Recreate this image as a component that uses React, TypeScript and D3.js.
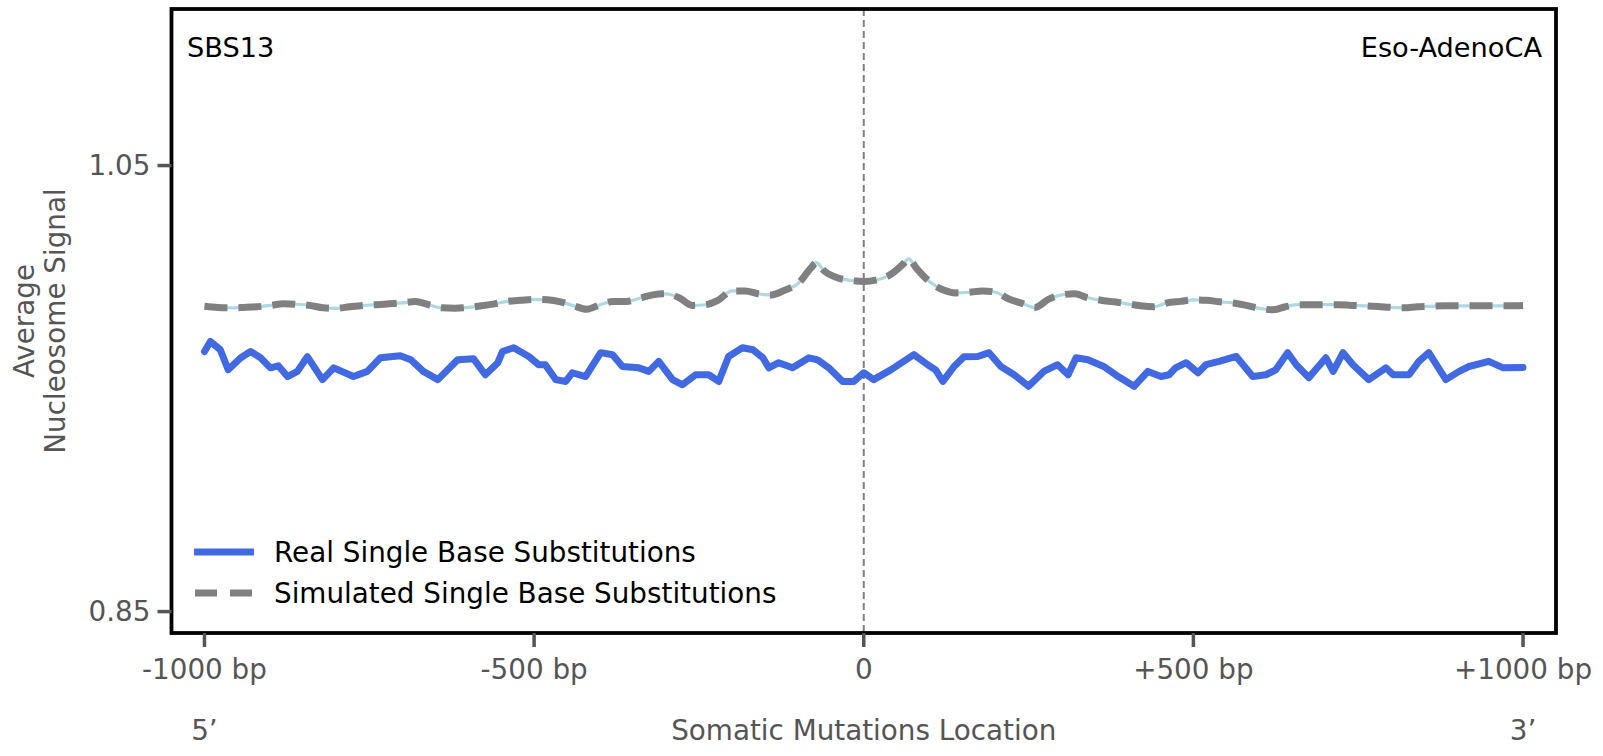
import React from 'react';
import * as d3 from 'd3';

// real SBS profile (bp from mutation, avg signal)
const realBp = [
  -1000, -991, -976, -964, -945, -930, -915, -900, -888, -874, -859, -844, -821, -804, -774, -753,
  -733, -703, -687, -668, -646, -616, -592, -574, -555, -548, -531, -508, -493, -483, -467, -452,
  -442, -422, -399, -381, -366, -341, -326, -311, -290, -275, -255, -235, -220, -205, -184, -168,
  -153, -144, -129, -108, -83, -70, -53, -32, -15, 0, 15, 41, 76, 97, 109, 120, 137, 152, 173, 190,
  208, 228, 250, 273, 294, 310, 322, 340, 364, 386, 410, 431, 451, 463, 473, 489, 507, 519, 539,
  565, 590, 610, 625, 643, 656, 675, 701, 712, 727, 742, 766, 792, 803, 827, 842, 857, 883, 903,
  918, 948, 970, 1000,
];
const realSignal = [
  0.9666, 0.9711, 0.9674, 0.9584, 0.9638, 0.9666, 0.9638, 0.9593, 0.9602, 0.9554, 0.9577, 0.9643,
  0.954, 0.9593, 0.9554, 0.9577, 0.9638, 0.9647, 0.9629, 0.9577, 0.954, 0.9629, 0.9634, 0.9562,
  0.9616, 0.9666, 0.9683, 0.9644, 0.9607, 0.9607, 0.954, 0.9532, 0.9571, 0.9554, 0.9661, 0.9652,
  0.9599, 0.9593, 0.9577, 0.9622, 0.954, 0.9517, 0.9562, 0.9562, 0.9532, 0.9644, 0.9683, 0.9674,
  0.9638, 0.9593, 0.9616, 0.9593, 0.9638, 0.9629, 0.9593, 0.9532, 0.9532, 0.9571, 0.954, 0.9584,
  0.9652, 0.9607, 0.9584, 0.9532, 0.9599, 0.9643, 0.9644, 0.9661, 0.9599, 0.9562, 0.951, 0.9577,
  0.9607, 0.9562, 0.9638, 0.9629, 0.9599, 0.9554, 0.951, 0.9577, 0.9554, 0.9562, 0.9593, 0.9616,
  0.9571, 0.9607, 0.9622, 0.9644, 0.9554, 0.9562, 0.9584, 0.9661, 0.9607, 0.9549, 0.9638, 0.9577,
  0.9661, 0.9607, 0.954, 0.9593, 0.9562, 0.9562, 0.9622, 0.9661, 0.954, 0.9577, 0.9599, 0.9622,
  0.9593, 0.9595,
];

// simulated profile
const simBp = [
  -1000, -980, -960, -940, -920, -900, -880, -860, -840, -820, -800, -780, -760, -740, -720, -700,
  -680, -660, -640, -620, -600, -580, -560, -540, -520, -500, -480, -460, -440, -420, -400, -380,
  -360, -340, -320, -300, -280, -260, -240, -220, -200, -180, -160, -140, -120, -100, -80, -72,
  -60, -40, -20, 0, 20, 40, 60, 68, 80, 100, 120, 140, 160, 180, 200, 220, 240, 260, 280, 300, 320,
  340, 360, 380, 400, 420, 440, 460, 480, 500, 520, 540, 560, 580, 600, 620, 640, 660, 680, 700,
  720, 740, 760, 780, 800, 820, 840, 860, 880, 900, 920, 940, 960, 980, 1000,
];
const simSignal = [
  0.9869, 0.9864, 0.9862, 0.9864, 0.9867, 0.9873, 0.988, 0.9878, 0.9873, 0.9862, 0.986, 0.9867,
  0.9873, 0.9876, 0.988, 0.9884, 0.989, 0.9876, 0.9862, 0.986, 0.9864, 0.9871, 0.988, 0.9891,
  0.9896, 0.99, 0.9898, 0.9889, 0.9871, 0.9856, 0.9876, 0.9891, 0.9891, 0.9905, 0.992, 0.9925,
  0.9907, 0.9873, 0.9876, 0.9898, 0.9938, 0.9938, 0.9925, 0.992, 0.9941, 0.997, 1.0041, 1.0065,
  1.0028, 0.9997, 0.9985, 0.998, 0.9988, 1.001, 1.0059, 1.0082, 1.0039, 0.9979, 0.9943, 0.9929,
  0.9932, 0.9938, 0.9932, 0.9902, 0.9882, 0.9864, 0.99, 0.992, 0.9925, 0.9907, 0.9896, 0.9889,
  0.988, 0.9871, 0.9867, 0.9884, 0.9891, 0.9898, 0.9896, 0.9889, 0.9884, 0.9873, 0.986, 0.9853,
  0.9867, 0.9876, 0.9876, 0.9876, 0.9876, 0.9873, 0.9871, 0.9868, 0.9864, 0.9862, 0.9867, 0.9869,
  0.9871, 0.9871, 0.9871, 0.9871, 0.9871, 0.9871, 0.9873,
];

const xTicks = [-1000, -500, 0, 500, 1000];
const xTickLabels = ['-1000 bp', '-500 bp', '0', '+500 bp', '+1000 bp'];
const yTicks = [1.05, 0.85];
const legendLabels = ['Real Single Base Substitutions', 'Simulated Single Base Substitutions'];

const W = 1603;
const H = 756;
const box = { left: 171.5, right: 1556, top: 9, bottom: 633 };
const FONT = '"DejaVu Sans", sans-serif';
const GREY_TXT = '#555555';
const FS = 27.8; // 20pt @ 100dpi

export default function App() {
  const x = d3.scaleLinear().domain([-1050, 1050]).range([box.left, box.right]);
  const y = d3.scaleLinear().domain([0.8404, 1.1202]).range([box.bottom, box.top]);

  const realLine = d3
    .line<number>()
    .x((_, i) => x(realBp[i]))
    .y((d) => y(d))
    .curve(d3.curveLinear);
  const simLine = d3
    .line<number>()
    .x((_, i) => x(simBp[i]))
    .y((d) => y(d))
    .curve(d3.curveMonotoneX);

  const midY = (box.top + box.bottom) / 2;

  return (
    <svg
      width={W}
      height={H}
      style={{ position: 'absolute', left: 0, top: 0, background: '#fff' }}
      fontFamily={FONT}
    >
      <defs>
        <clipPath id="plot-clip">
          <rect x={box.left} y={box.top} width={box.right - box.left} height={box.bottom - box.top} />
        </clipPath>
      </defs>

      <g clipPath="url(#plot-clip)">
        {/* centre line */}
        <line
          x1={x(0)}
          x2={x(0)}
          y1={box.top}
          y2={box.bottom}
          stroke="#808080"
          strokeWidth={2}
          strokeDasharray="7,4"
        />
        <path d={simLine(simSignal) || ''} fill="none" stroke="#ADD8E6" strokeWidth={3.2} />
        <path
          d={simLine(simSignal) || ''}
          fill="none"
          stroke="#808080"
          strokeWidth={7}
          strokeDasharray="23,11"
        />
        <path
          d={realLine(realSignal) || ''}
          fill="none"
          stroke="#4169E1"
          strokeWidth={7}
          strokeLinejoin="round"
          strokeLinecap="round"
        />
      </g>

      {/* frame */}
      <rect
        x={box.left}
        y={box.top}
        width={box.right - box.left}
        height={box.bottom - box.top}
        fill="none"
        stroke="#000"
        strokeWidth={3.8}
      />

      {/* y ticks */}
      {yTicks.map((t) => (
        <g key={t}>
          <line x1={box.left - 14} x2={box.left} y1={y(t)} y2={y(t)} stroke={GREY_TXT} strokeWidth={3.5} />
          <text
            x={box.left - 21}
            y={y(t)}
            textAnchor="end"
            dominantBaseline="central"
            fontSize={FS}
            fill={GREY_TXT}
          >
            {t.toFixed(2)}
          </text>
        </g>
      ))}

      {/* x ticks */}
      {xTicks.map((t, i) => (
        <g key={t}>
          <line x1={x(t)} x2={x(t)} y1={box.bottom} y2={box.bottom + 14} stroke={GREY_TXT} strokeWidth={3.5} />
          <text x={x(t)} y={679} textAnchor="middle" fontSize={FS} fill={GREY_TXT}>
            {xTickLabels[i]}
          </text>
        </g>
      ))}

      {/* x axis titles */}
      <text x={x(-1000)} y={740} textAnchor="middle" fontSize={FS} fill={GREY_TXT}>
        5’
      </text>
      <text x={x(0)} y={740} textAnchor="middle" fontSize={FS} fill={GREY_TXT}>
        Somatic Mutations Location
      </text>
      <text x={x(1000)} y={740} textAnchor="middle" fontSize={FS} fill={GREY_TXT}>
        3’
      </text>

      {/* y axis title */}
      <g transform={`translate(34,${midY}) rotate(-90)`}>
        <text x={0} y={0} textAnchor="middle" fontSize={FS} fill={GREY_TXT}>
          Average
        </text>
        <text x={0} y={31} textAnchor="middle" fontSize={FS} fill={GREY_TXT}>
          Nucleosome Signal
        </text>
      </g>

      {/* corner labels */}
      <text x={187} y={57} fontSize={27.2} fill="#000">
        SBS13
      </text>
      <text x={1542} y={57} textAnchor="end" fontSize={27.2} fill="#000">
        Eso-AdenoCA
      </text>

      {/* legend */}
      <line x1={194} x2={254} y1={552} y2={552} stroke="#4169E1" strokeWidth={7} />
      <line x1={195} x2={252} y1={593} y2={593} stroke="#808080" strokeWidth={7} strokeDasharray="22,13" />
      {legendLabels.map((l, i) => (
        <text key={l} x={274} y={552 + i * 41} dominantBaseline="central" fontSize={FS} fill="#000">
          {l}
        </text>
      ))}
    </svg>
  );
}
